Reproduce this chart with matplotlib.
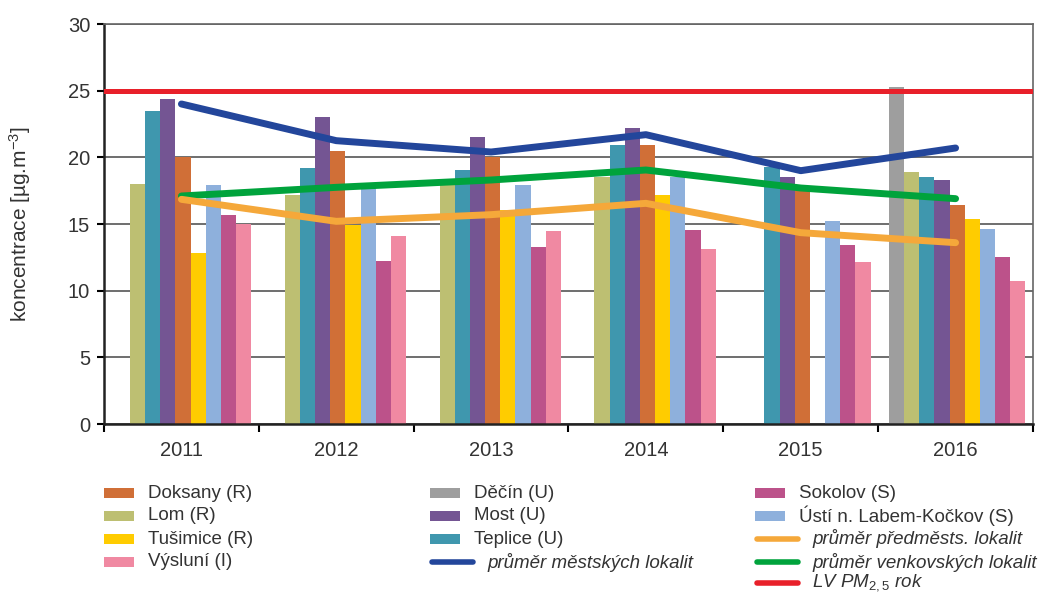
import numpy as np
import matplotlib
matplotlib.use("Agg")
import matplotlib.pyplot as plt
from matplotlib.patches import Rectangle
from matplotlib.lines import Line2D

plt.rcParams['font.family'] = ['Liberation Sans', 'DejaVu Sans']
plt.rcParams['mathtext.fontset'] = 'custom'
plt.rcParams['mathtext.rm'] = 'Liberation Sans'
plt.rcParams['mathtext.it'] = 'Liberation Sans:italic'

years = ["2011", "2012", "2013", "2014", "2015", "2016"]

# bar order inside each year group
stations = ["Děčín (U)", "Lom (R)", "Teplice (U)", "Most (U)", "Doksany (R)",
            "Tušimice (R)", "Ústí n. Labem-Kočkov (S)", "Sokolov (S)", "Výsluní (I)"]
decin    = [np.nan, np.nan, np.nan, np.nan, np.nan, 25.25]
lom      = [18.0, 17.2, 18.0, 18.55, np.nan, 18.9]
teplice  = [23.5, 19.2, 19.05, 20.9, 19.3, 18.55]
most     = [24.4, 23.0, 21.55, 22.2, 18.5, 18.3]
doksany  = [20.0, 20.5, 20.05, 20.9, 17.8, 16.45]
tusimice = [12.8, 14.9, 16.05, 17.2, np.nan, 15.35]
usti     = [17.95, 17.9, 17.95, 18.55, 15.2, 14.6]
sokolov  = [15.7, 12.2, 13.3, 14.55, 13.4, 12.5]
vysluni  = [15.0, 14.1, 14.5, 13.1, 12.15, 10.7]

avg_urban = [24.0, 21.25, 20.4, 21.7, 19.0, 20.7]
avg_rural = [17.1, 17.75, 18.3, 19.05, 17.7, 16.9]
avg_suburb = [16.85, 15.2, 15.7, 16.55, 14.35, 13.6]
limit = 25

series = [decin, lom, teplice, most, doksany, tusimice, usti, sokolov, vysluni]
colors = ["#9e9e9e", "#bdbf72", "#3f97ae", "#745593", "#d06f37",
          "#ffcc00", "#8eb0dc", "#bc528a", "#f089a2"]
c_urban, c_rural, c_suburb, c_limit = "#23469b", "#00a33c", "#f5a83a", "#e8202a"

W, H = 1041, 593
fig = plt.figure(figsize=(W / 100, H / 100), dpi=100)
ax = fig.add_axes([104/W, 1-424/H, 929/W, 400/H])

x = np.arange(len(years))
bw = 0.098
for i, (vals, c) in enumerate(zip(series, colors)):
    ax.bar(x + (i - 4) * bw + 0.01, vals, width=bw, color=c, zorder=2)

ax.plot(x, avg_urban, color=c_urban, lw=5, solid_capstyle="round", zorder=3)
ax.plot(x, avg_rural, color=c_rural, lw=5, solid_capstyle="round", zorder=3)
ax.plot(x, avg_suburb, color=c_suburb, lw=5, solid_capstyle="round", zorder=3)
ax.axhline(limit, color=c_limit, lw=3.6, zorder=3)

ax.set_xlim(-0.5, 5.5)
ax.set_ylim(0, 30)
ax.set_yticks(range(0, 31, 5))
ax.yaxis.grid(True, color="#555555", lw=1.2, zorder=0)
ax.set_axisbelow(True)
ax.set_xticks(np.arange(-0.5, 5.6, 1))
ax.set_xticklabels([])
ax.set_xticks(x, minor=True)
ax.set_xticklabels(years, minor=True, fontsize=14.5, color="#333333")
ax.tick_params(axis="x", which="minor", length=0, pad=12)
ax.tick_params(axis="x", which="major", direction="out", length=6, width=1.5)
ax.tick_params(axis="y", direction="out", length=5, width=1.5, pad=5,
               labelsize=14.5, labelcolor="#333333")
for s in ["left", "bottom"]:
    ax.spines[s].set_linewidth(1.8)
    ax.spines[s].set_color("#222222")
for s in ["top", "right"]:
    ax.spines[s].set_linewidth(1.2)
    ax.spines[s].set_color("#666666")
ax.set_ylabel("koncentrace [µg.m$^{-3}$]", fontsize=15, color="#333333")
ax.yaxis.set_label_coords(-0.076, 0.5)

# legend, three columns drawn by hand (pixel positions of the reference)
rows = [493, 516, 539, 562, 583]
cols = [
    (104, [("p", "#d06f37", "Doksany (R)"), ("p", "#bdbf72", "Lom (R)"),
           ("p", "#ffcc00", "Tušimice (R)"), ("p", "#f089a2", "Výsluní (I)")]),
    (430, [("p", "#9e9e9e", "Děčín (U)"), ("p", "#745593", "Most (U)"),
           ("p", "#3f97ae", "Teplice (U)"), ("l", c_urban, "průměr městských lokalit")]),
    (755, [("p", "#bc528a", "Sokolov (S)"), ("p", "#8eb0dc", "Ústí n. Labem-Kočkov (S)"),
           ("l", c_suburb, "průměr předměsts. lokalit"),
           ("l", c_rural, "průměr venkovských lokalit"),
           ("l", c_limit, r"LV PM$_{\mathit{2,5}}$ rok")]),
]
for x0, entries in cols:
    for (kind, c, label), y in zip(entries, rows):
        if kind == "p":
            fig.add_artist(Rectangle((x0 / W, 1 - (y + 5) / H), 30 / W, 10 / H,
                                     transform=fig.transFigure, color=c, lw=0))
            fig.text((x0 + 44) / W, 1 - y / H, label, fontsize=13.5,
                     color="#333333", va="center")
        else:
            fig.add_artist(Line2D([(x0 + 2) / W, (x0 + 43) / W], [1 - y / H] * 2,
                                  transform=fig.transFigure, color=c, lw=4,
                                  solid_capstyle="round"))
            fig.text((x0 + 57) / W, 1 - y / H, label, fontsize=13.5,
                     color="#333333", va="center", style="italic")

fig.savefig("out.png", dpi=100)
